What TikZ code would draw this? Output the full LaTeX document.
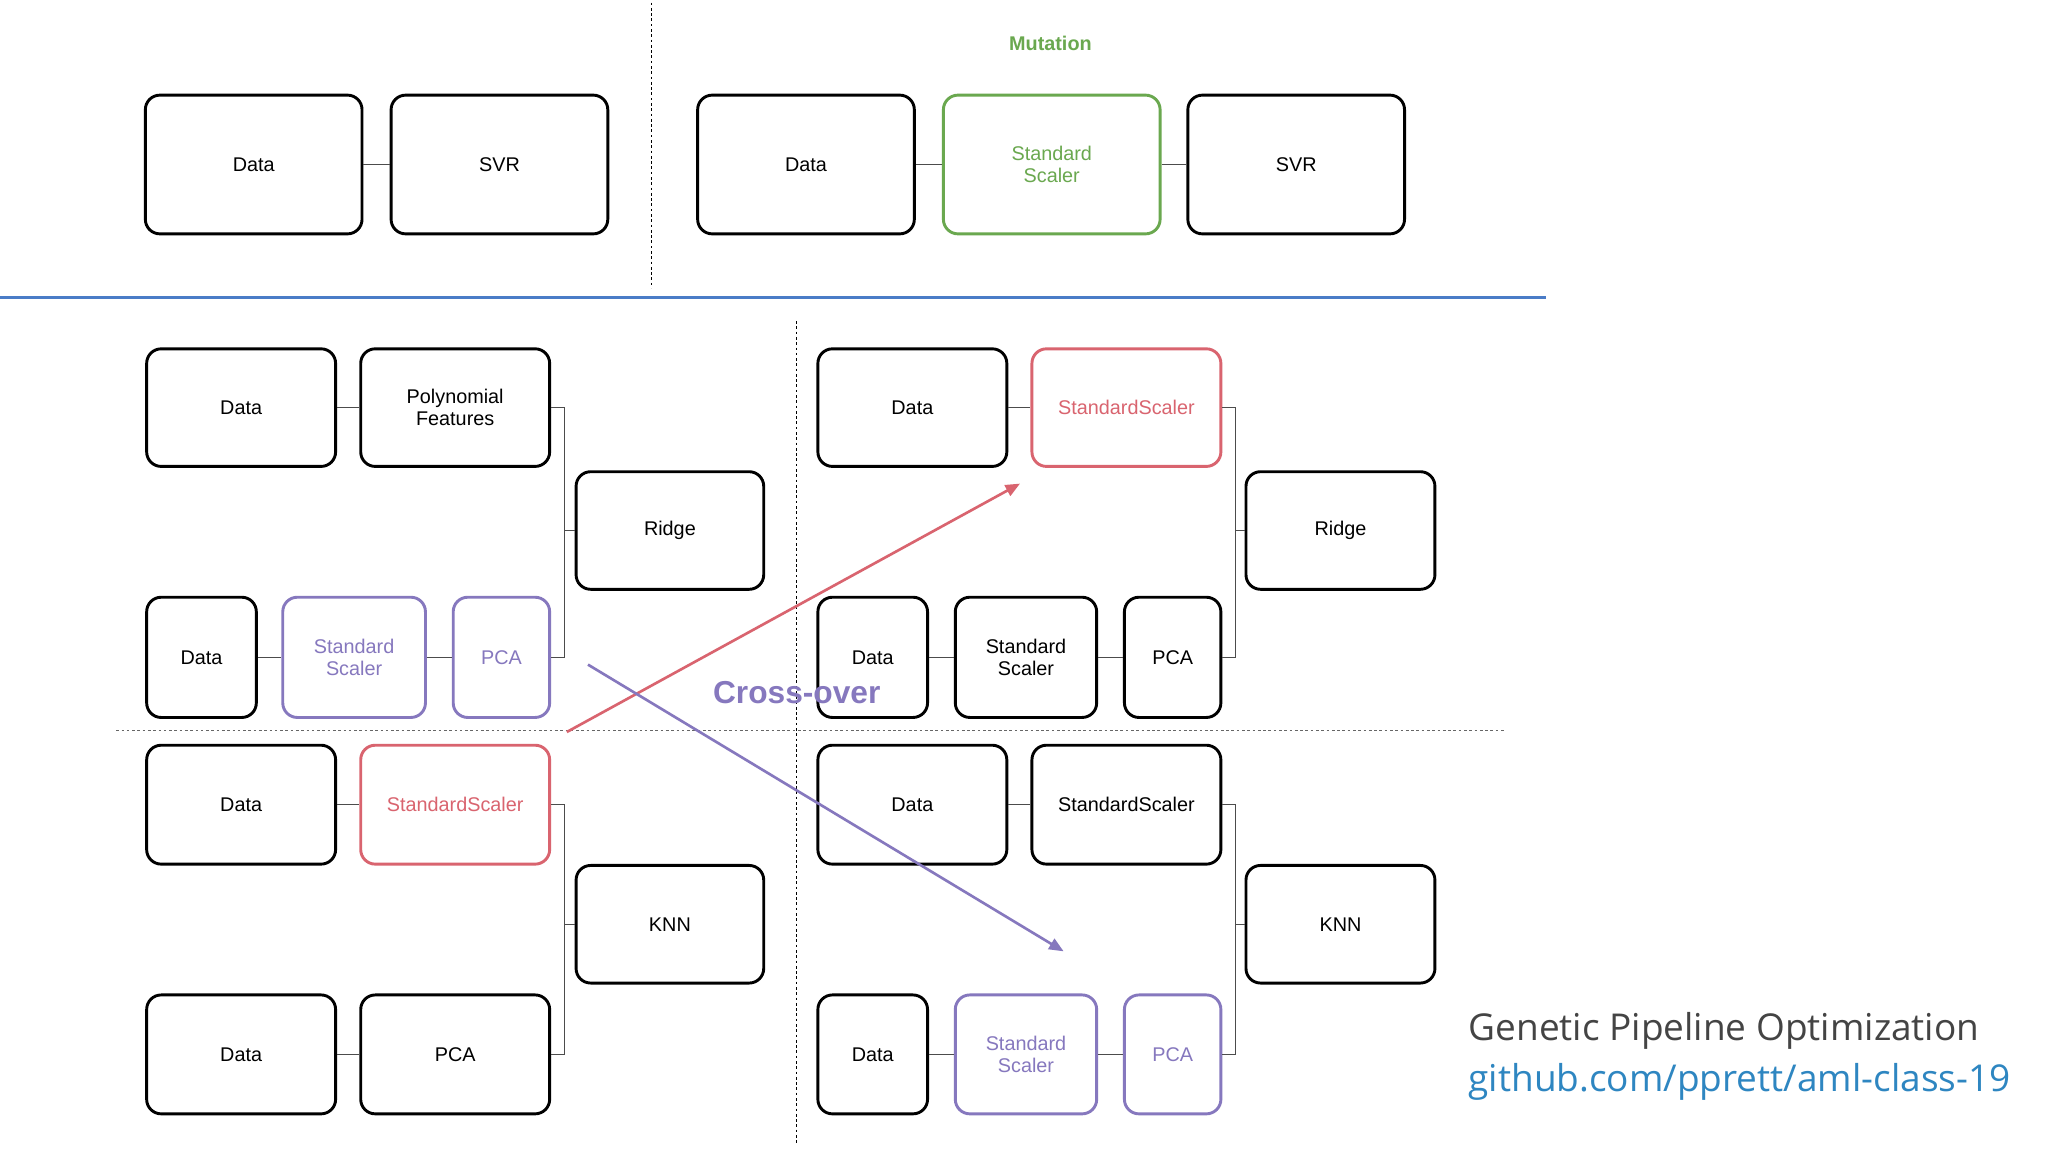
\documentclass[tikz,border=0pt]{standalone}
\usepackage{fontspec}
\setmainfont{Liberation Sans}
\newfontfamily\capfont{Open Sans}
\usetikzlibrary{arrows.meta}
\definecolor{mgreen}{HTML}{6AA84F}
\definecolor{mred}{HTML}{D9646F}
\definecolor{mpurple}{HTML}{8678BE}
\definecolor{mblue}{HTML}{4A7CC7}
\definecolor{mgray}{HTML}{444444}
\definecolor{lblue}{HTML}{2E86C1}
\begin{document}
\begin{tikzpicture}[x=1pt,y=-1pt,
  box/.style={draw=black,line width=2.2pt,rounded corners=11pt,font=\fontsize{15}{17}\selectfont,align=center,inner sep=0pt},
  g/.style={draw=mgreen,text=mgreen},
  r/.style={draw=mred,text=mred},
  p/.style={draw=mpurple,text=mpurple},
  conn/.style={line width=0.8pt,draw=black!70}]
\useasboundingbox[fill=white] (0,0) rectangle (1550,872);
\newcommand\bx[7][]{\node[box,#1,minimum width=#4-#3,minimum height=#6-#5] (#2) at ({(#3+#4)/2},{(#5+#6)/2}) {#7};}
% top
\bx{t1}{110}{274}{72}{177}{Data}
\bx{t2}{296}{460}{72}{177}{SVR}
\bx{t3}{528}{692}{72}{177}{Data}
\bx[g]{t4}{714}{878}{72}{177}{Standard\\Scaler}
\bx{t5}{899}{1063}{72}{177}{SVR}
\draw[conn] (t1)--(t2); \draw[conn] (t3)--(t4); \draw[conn] (t4)--(t5);
\node[text=mgreen,font=\bfseries\fontsize{15}{17}\selectfont] (mut) at (795,33) {Mutation};
\coordinate (d1a) at (493,2); \coordinate (d1b) at (493,218);
\draw[dash pattern=on 2pt off 2pt,line width=0.6pt] (d1a)--(d1b);
\coordinate (bl1) at (0,225); \coordinate (bl2) at (1170,225);
\draw[mblue,line width=2.5pt] (bl1)--(bl2);
% lower: two halves
\foreach \s/\o in {L/0,R/508}{
}
% left top group
\bx{a1}{111}{254}{264}{353}{Data}
\bx{a2}{273}{416}{264}{353}{Polynomial\\Features}
\bx{a3}{436}{578}{357}{446}{Ridge}
\bx{a4}{111}{194}{452}{543}{Data}
\bx[p]{a5}{214}{322}{452}{543}{Standard\\Scaler}
\bx[p]{a6}{343}{416}{452}{543}{PCA}
\bx{b1}{111}{254}{564}{654}{Data}
\bx[r]{b2}{273}{416}{564}{654}{StandardScaler}
\bx{b3}{436}{578}{655}{744}{KNN}
\bx{b4}{111}{254}{753}{843}{Data}
\bx{b5}{273}{416}{753}{843}{PCA}
% right
\bx{c1}{619}{762}{264}{353}{Data}
\bx[r]{c2}{781}{924}{264}{353}{StandardScaler}
\bx{c3}{943}{1086}{357}{446}{Ridge}
\bx{c4}{619}{702}{452}{543}{Data}
\bx{c5}{723}{830}{452}{543}{Standard\\Scaler}
\bx{c6}{851}{924}{452}{543}{PCA}
\bx{e1}{619}{762}{564}{654}{Data}
\bx{e2}{781}{924}{564}{654}{StandardScaler}
\bx{e3}{943}{1086}{655}{744}{KNN}
\bx{e4}{619}{702}{753}{843}{Data}
\bx[p]{e5}{723}{830}{753}{843}{Standard\\Scaler}
\bx[p]{e6}{851}{924}{753}{843}{PCA}
\foreach \p in {a,b,c,e}{
}
\draw[conn] (a1)--(a2); \draw[conn] (a4)--(a5); \draw[conn] (a5)--(a6);
\draw[conn] (a2.east)-|([xshift=10pt]a2.east|-a6.east)--(a6.east);
\draw[conn] ([xshift=10pt]a2.east|-a3.west)--(a3.west);
\draw[conn] (b1)--(b2); \draw[conn] (b4)--(b5);
\draw[conn] (b2.east)-|([xshift=10pt]b2.east|-b5.east)--(b5.east);
\draw[conn] ([xshift=10pt]b2.east|-b3.west)--(b3.west);
\draw[conn] (c1)--(c2); \draw[conn] (c4)--(c5); \draw[conn] (c5)--(c6);
\draw[conn] (c2.east)-|([xshift=10pt]c2.east|-c6.east)--(c6.east);
\draw[conn] ([xshift=10pt]c2.east|-c3.west)--(c3.west);
\draw[conn] (e1)--(e2); \draw[conn] (e4)--(e5); \draw[conn] (e5)--(e6);
\draw[conn] (e2.east)-|([xshift=10pt]e2.east|-e6.east)--(e6.east);
\draw[conn] ([xshift=10pt]e2.east|-e3.west)--(e3.west);
% dashed separators
\coordinate (v1) at (603,243); \coordinate (v2) at (603,865);
\draw[dash pattern=on 2pt off 2pt,line width=0.6pt] (v1)--(v2);
\coordinate (h1) at (88,553); \coordinate (h2) at (1138,553);
\draw[dash pattern=on 2pt off 2pt,line width=0.6pt,black!60] (h1)--(h2);
% arrows
\coordinate (ra) at (429,554); \coordinate (rb) at (772,366);
\draw[mred,line width=2pt,-{Triangle[length=11pt,width=9pt]}] (ra)--(rb);
\coordinate (pa) at (445,503); \coordinate (pb) at (805,720);
\draw[mpurple,line width=2pt,-{Triangle[length=11pt,width=9pt]}] (pa)--(pb);
\node[text=mpurple,font=\bfseries\fontsize{24}{26}\selectfont] (co) at (603,524) {Cross-over};
\node[anchor=west,text=mgray,font=\capfont\fontsize{28}{30}\selectfont] (gt) at (1108,780) {Genetic Pipeline Optimization};
\node[anchor=west,text=lblue,font=\capfont\fontsize{28}{30}\selectfont] (gl) at (1108,819) {github.com/pprett/aml-class-19};
\end{tikzpicture}
\end{document}
